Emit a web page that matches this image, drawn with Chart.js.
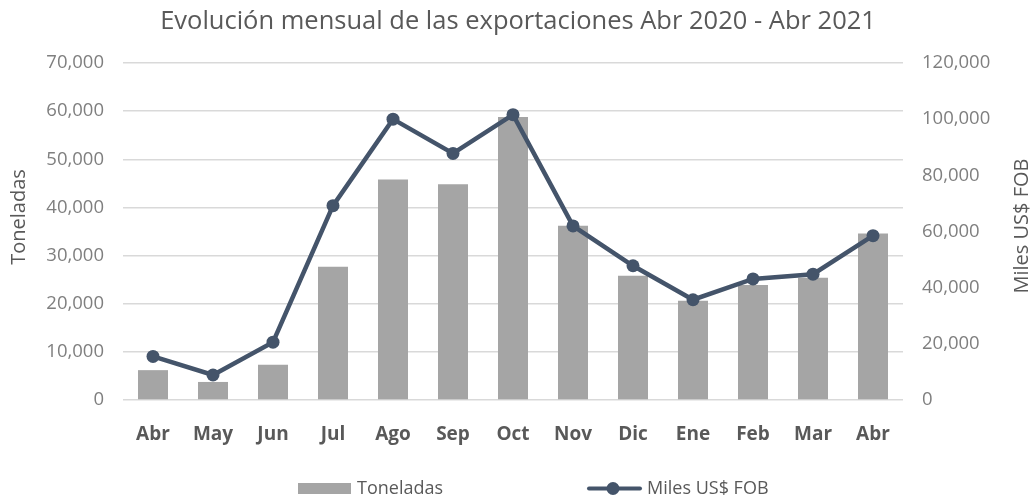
<!DOCTYPE html>
<html>
<head>
<meta charset="utf-8">
<script src="https://cdn.jsdelivr.net/npm/chart.js@4/dist/chart.umd.min.js"></script>
<style>
  html, body { margin: 0; padding: 0; background: #fff; }
  #wrap { width: 1036px; height: 500px; }
</style>
</head>
<body>
<div id="wrap"><canvas id="chart" width="1036" height="500"></canvas></div>
<script>
// Data
const months = ['Abr', 'May', 'Jun', 'Jul', 'Ago', 'Sep', 'Oct', 'Nov', 'Dic', 'Ene', 'Feb', 'Mar', 'Abr'];
const toneladas = [6200, 3750, 7300, 27700, 45800, 44800, 58800, 36200, 25800, 20600, 23900, 25400, 34600];
const milesUsdFob = [15500, 8900, 20600, 69200, 100000, 87800, 101600, 62000, 47800, 35700, 43100, 44800, 58500];
const leftTicks = [0, 10000, 20000, 30000, 40000, 50000, 60000, 70000];
const rightTicks = [0, 20000, 40000, 60000, 80000, 100000, 120000];

const FONT = "'Open Sans', sans-serif";
const barColor = '#a5a5a5';
const lineColor = '#44546a';

const fmt = (v) => v.toLocaleString('en-US');

// Excel-like legend and the two axis titles
const extras = {
  id: 'extras',
  afterDraw(chart) {
    const ctx = chart.ctx;
    const ds = chart.data.datasets;
    ctx.save();
    ctx.font = '18px ' + FONT;
    ctx.textBaseline = 'middle';
    ctx.textAlign = 'left';
    const ly = 488.5;
    // bar item
    ctx.fillStyle = ds[0].backgroundColor;
    ctx.fillRect(298, ly - 5.5, 53, 11);
    ctx.fillStyle = '#595959';
    ctx.fillText(ds[0].label, 357, ly);
    // line item
    ctx.strokeStyle = ds[1].borderColor;
    ctx.lineWidth = 4;
    ctx.lineCap = 'round';
    ctx.beginPath();
    ctx.moveTo(589, ly);
    ctx.lineTo(640, ly);
    ctx.stroke();
    ctx.fillStyle = ds[1].borderColor;
    ctx.beginPath();
    ctx.arc(613, ly, 6.5, 0, Math.PI * 2);
    ctx.fill();
    ctx.fillStyle = '#595959';
    ctx.fillText(ds[1].label, 647, ly);
    // axis titles, both read bottom to top
    ctx.textAlign = 'center';
    ctx.font = '20px ' + FONT;
    ctx.save();
    ctx.translate(19, 217);
    ctx.rotate(-Math.PI / 2);
    ctx.fillText('Toneladas', 0, 0);
    ctx.restore();
    ctx.translate(1022, 226);
    ctx.rotate(-Math.PI / 2);
    ctx.fillText('Miles US$ FOB', 0, 0);
    ctx.restore();
  }
};

new Chart(document.getElementById('chart').getContext('2d'), {
  data: {
    labels: months,
    datasets: [
      {
        type: 'bar',
        label: 'Toneladas',
        data: toneladas,
        backgroundColor: barColor,
        yAxisID: 'y',
        barPercentage: 0.5,
        categoryPercentage: 1,
        order: 2
      },
      {
        type: 'line',
        label: 'Miles US$ FOB',
        data: milesUsdFob,
        borderColor: lineColor,
        backgroundColor: lineColor,
        borderWidth: 4.5,
        pointRadius: 6.5,
        pointBackgroundColor: lineColor,
        pointBorderWidth: 0,
        tension: 0,
        yAxisID: 'y1',
        order: 1
      }
    ]
  },
  options: {
    responsive: false,
    animation: false,
    layout: { padding: { left: 0, right: 0, top: 0, bottom: 44 } },
    plugins: {
      legend: { display: false },
      tooltip: { enabled: false },
      title: {
        display: true,
        text: 'Evolución mensual de las exportaciones Abr 2020 - Abr 2021',
        color: '#595959',
        font: { family: FONT, size: 25.5, weight: 'normal' },
        padding: { top: 6, bottom: 26.4 }
      }
    },
    scales: {
      x: {
        grid: { display: false },
        border: { display: false },
        ticks: {
          color: '#595959',
          font: { family: FONT, size: 19, weight: 'bold' },
          padding: 15,
          maxRotation: 0
        },
        afterFit(scale) { scale.height = 56; }
      },
      y: {
        position: 'left',
        min: 0,
        max: 70000,
        afterBuildTicks(scale) { scale.ticks = leftTicks.map(v => ({ value: v })); },
        ticks: {
          color: '#7f7f7f',
          font: { family: FONT, size: 18.5 },
          padding: 19,
          callback: (v) => fmt(v)
        },
        grid: { color: '#d9d9d9', lineWidth: 1.5, drawTicks: false },
        border: { display: false },
        afterFit(scale) { scale.width = 123; }
      },
      y1: {
        position: 'right',
        min: 0,
        max: 120000,
        afterBuildTicks(scale) { scale.ticks = rightTicks.map(v => ({ value: v })); },
        ticks: {
          color: '#7f7f7f',
          font: { family: FONT, size: 18.5 },
          padding: 19,
          callback: (v) => fmt(v)
        },
        grid: { display: false, drawTicks: false },
        border: { display: false },
        afterFit(scale) { scale.width = 133; }
      }
    }
  },
  plugins: [extras]
});
</script>
</body>
</html>
